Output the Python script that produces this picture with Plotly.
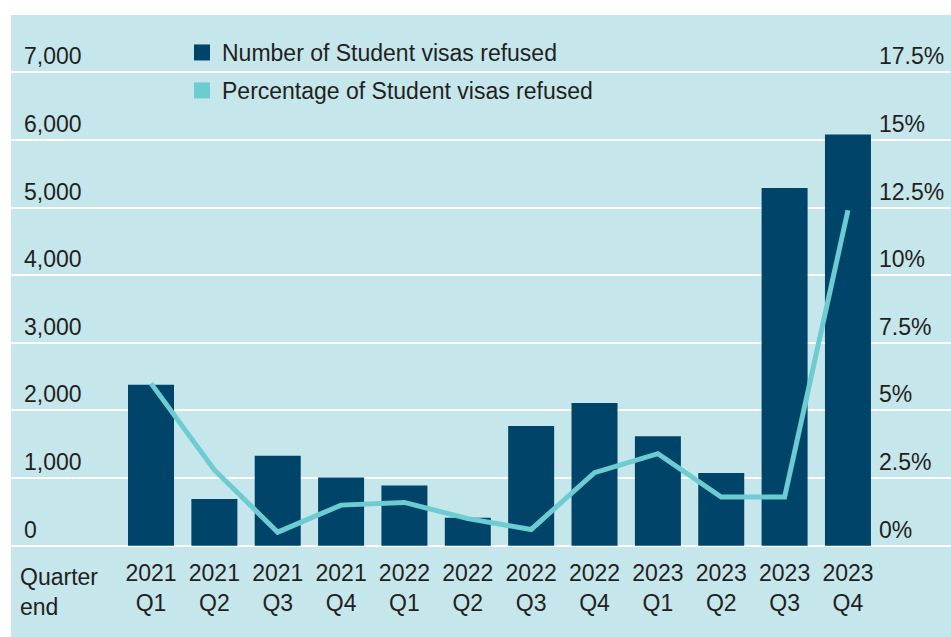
import plotly.graph_objects as go

# Quarter-end periods
quarters = ["2021<br>Q1", "2021<br>Q2", "2021<br>Q3", "2021<br>Q4",
            "2022<br>Q1", "2022<br>Q2", "2022<br>Q3", "2022<br>Q4",
            "2023<br>Q1", "2023<br>Q2", "2023<br>Q3", "2023<br>Q4"]

# Number of Student visas refused per quarter
refused_count = [2380, 690, 1330, 1010, 890, 415, 1770, 2110, 1620, 1075, 5290, 6080]

# Percentage of Student visas refused per quarter
refused_pct = [6.0, 2.8, 0.5, 1.5, 1.6, 1.0, 0.6, 2.7, 3.4, 1.8, 1.8, 12.4]

# Axis ticks
count_ticks = [0, 1000, 2000, 3000, 4000, 5000, 6000, 7000]
count_ticktext = ["0", "1,000", "2,000", "3,000", "4,000", "5,000", "6,000", "7,000"]
pct_ticks = [0, 2.5, 5, 7.5, 10, 12.5, 15, 17.5]
pct_ticktext = ["0%", "2.5%", "5%", "7.5%", "10%", "12.5%", "15%", "17.5%"]

NAVY = "#00446a"
TEAL = "#6dcbd2"
PANEL = "#c5e6eb"
INK = "#231f20"
FONT = "Liberation Sans, Arial, Helvetica, sans-serif"
FS = 23

fig = go.Figure()

fig.add_trace(go.Bar(
    x=quarters, y=refused_count, name="Number of Student visas refused",
    marker=dict(color=NAVY, line=dict(width=0)),
    showlegend=False, yaxis="y",
))

fig.add_trace(go.Scatter(
    x=quarters, y=refused_pct, name="Percentage of Student visas refused",
    mode="lines", line=dict(color=TEAL, width=5),
    showlegend=False, yaxis="y2",
))

# Square legend keys for both series
fig.add_trace(go.Scatter(
    x=[None], y=[None], mode="markers", name="Number of Student visas refused",
    marker=dict(symbol="square", size=16, color=NAVY), legend="legend",
))
fig.add_trace(go.Scatter(
    x=[None], y=[None], mode="markers", name="Percentage of Student visas refused",
    marker=dict(symbol="square", size=16, color=TEAL), legend="legend2",
))

W, H = 951, 637
L, T = 11, 15
pw, ph = W - L, H - T

px_per_unit = 67.63 / 1000.0
zero_y = 545.7
y_lo = -(H - zero_y) / px_per_unit
y_hi = 7000 + (zero_y - 7000 * px_per_unit - T) / px_per_unit
pct_scale = 17.5 / 7000

slot = 63.36
first_center = 151
x_lo = (L - first_center) / slot
x_hi = (W - first_center) / slot

fig.update_layout(
    width=W, height=H,
    margin=dict(l=L, r=0, t=T, b=0, pad=0),
    paper_bgcolor="white",
    plot_bgcolor=PANEL,
    font=dict(family=FONT, size=FS, color=INK),
    bargap=0.274,
    xaxis=dict(
        type="category", range=[x_lo, x_hi],
        anchor="free", position=(H - zero_y) / ph,
        showgrid=False, showline=False, zeroline=False, ticks="",
        tickfont=dict(size=FS, color=INK), ticklabelstandoff=11,
    ),
    yaxis=dict(
        range=[y_lo, y_hi], tickvals=count_ticks, ticktext=count_ticktext,
        showgrid=True, gridcolor="white", gridwidth=2,
        zeroline=False, showline=False, ticks="",
        ticklabelposition="inside top", ticklabelstandoff=10,
        tickfont=dict(size=FS, color=INK),
    ),
    yaxis2=dict(
        range=[y_lo * pct_scale, y_hi * pct_scale],
        tickvals=pct_ticks, ticktext=pct_ticktext,
        overlaying="y", side="right", anchor="free",
        position=(878 - L) / pw,
        showgrid=False, zeroline=False, showline=False, ticks="",
        ticklabelposition="outside top",
        tickfont=dict(size=FS, color=INK),
    ),
    legend=dict(
        x=(182 - L) / pw, y=1 - (31 - T) / ph, xanchor="left", yanchor="top",
        bgcolor="rgba(0,0,0,0)", borderwidth=0,
        font=dict(size=FS, color=INK, family=FONT),
    ),
    legend2=dict(
        x=(182 - L) / pw, y=1 - (69 - T) / ph, xanchor="left", yanchor="top",
        bgcolor="rgba(0,0,0,0)", borderwidth=0,
        font=dict(size=FS, color=INK, family=FONT),
    ),
    annotations=[dict(
        text="Quarter<br>end", xref="paper", yref="paper",
        x=(18 - L) / pw, y=(H - 562) / ph, xanchor="left", yanchor="top",
        showarrow=False, align="left", font=dict(size=FS, color=INK),
    )],
)

fig.write_html("out.html")
